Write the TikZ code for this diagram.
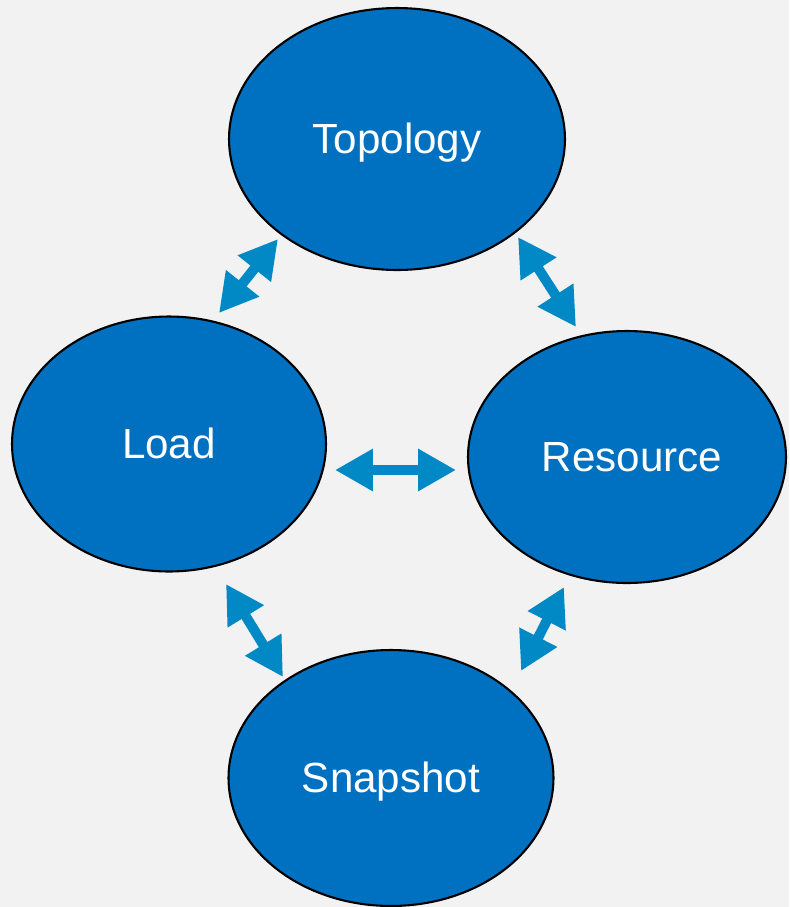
\documentclass[tikz,border=0pt]{standalone}
\usepackage{fontspec}
\setmainfont{Liberation Sans}
\usepackage{xcolor}
\usetikzlibrary{arrows.meta,shapes.geometric}
\definecolor{pagegray}{RGB}{242,242,242}
\definecolor{cyclefill}{RGB}{0,112,192}
\definecolor{linkblue}{RGB}{0,137,196}

\begin{document}
\begin{tikzpicture}[x=0.02cm,y=-0.02cm,
    phase/.style={ellipse,draw=black,line width=1.2pt,fill=cyclefill,inner sep=0pt,
      text=white,font=\fontsize{24}{28}\selectfont,text height=17pt,text depth=0pt},
    linkarrow/.style={{Triangle[length=0.76cm,width=0.8cm]}-{Triangle[length=0.76cm,width=0.8cm]},
      line width=0.2cm,draw=linkblue}
  ]
    \fill[pagegray] (0,0) rectangle (789,907);
    \useasboundingbox (0,0) rectangle (789,907);

    \node[phase,minimum width=6.72cm,minimum height=5.24cm] (topology) at (397,139) {Topology};
    \node[phase,minimum width=6.28cm,minimum height=5.1cm] (load) at (169,444) {Load};
    \node[phase,minimum width=6.36cm,minimum height=5.04cm] (resource) at (627,457) {\hspace{0.2cm}Resource};
    \node[phase,minimum width=6.5cm,minimum height=5.12cm] (snapshot) at (391,778) {Snapshot};

    % free-standing link arrows between the phases
    \coordinate (tl1) at (278,239);
    \coordinate (tl2) at (219,313);
    \coordinate (tr1) at (518,237);
    \coordinate (tr2) at (576,327);
    \coordinate (lr1) at (335,470);
    \coordinate (lr2) at (456,470);
    \coordinate (ls1) at (226,584);
    \coordinate (ls2) at (283,677);
    \coordinate (rs1) at (564,587);
    \coordinate (rs2) at (521,671);

    \draw[linkarrow] (tl1) -- (tl2);
    \draw[linkarrow] (tr1) -- (tr2);
    \draw[linkarrow] (lr1) -- (lr2);
    \draw[linkarrow] (ls1) -- (ls2);
    \draw[linkarrow] (rs1) -- (rs2);
  \end{tikzpicture}
\end{document}
